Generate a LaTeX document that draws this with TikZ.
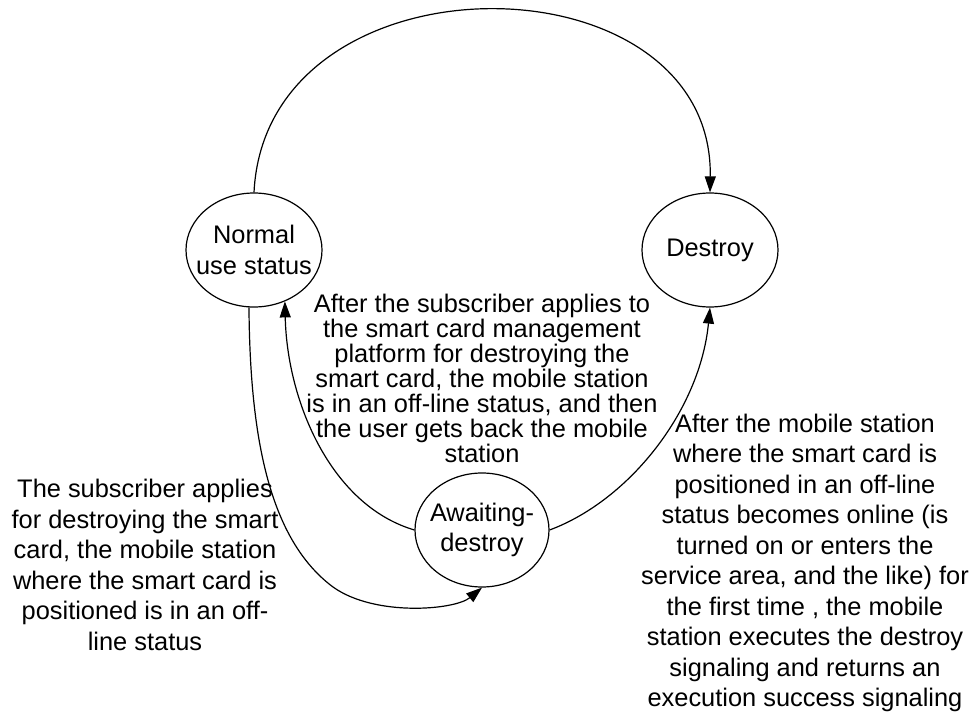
\documentclass[tikz,border=0pt]{standalone}
\usepackage{fontspec}
\setmainfont{Liberation Sans}
\usetikzlibrary{arrows.meta,shapes.geometric}
\begin{document}
\begin{tikzpicture}[x=1pt,y=-1pt,
  state/.style={draw, ellipse, line width=1.2pt, minimum width=136pt, minimum height=114pt, inner sep=0pt},
  lbl/.style={align=center, inner sep=0pt, font=\fontsize{25.4pt}{30.5pt}\selectfont},
  midlbl/.style={align=center, inner sep=0pt, font=\fontsize{25.4pt}{25pt}\selectfont},
  conn/.style={line width=1.2pt, -{Triangle[length=16pt,width=11pt]}}]
\fill[white] (0,0) rectangle (975,715);
\useasboundingbox (0,0) rectangle (975,715);

\node[state] (n) at (254,250) {};
\node[state] (d) at (710,250) {};
\node[state, minimum width=134pt] (a) at (482,530) {};

\node[lbl] (ntxt) at (n.center) {Normal\\use status};
\node[lbl] (dtxt) at (d.center) {Destroy};
\node[lbl] (atxt) at (a.center) {Awaiting-\\destroy};

\draw[conn] (n.north) .. controls (266,-52) and (714,-48) .. (d.north);
\draw[conn] (n.265) .. controls (250,440) and (270,540) .. (333,587) .. controls (375,617) and (455,610) .. (a.south);
\draw[conn] (a.west) .. controls (330,505) and (287,400) .. (n.301);
\draw[conn] (a.east) .. controls (630,500) and (700,410) .. (d.south);

\node[midlbl] (mid) at (482,378) {After the subscriber applies to\\the smart card management\\platform for destroying the\\smart card, the mobile station\\is in an off-line status, and then\\the user gets back the mobile\\station};
\node[lbl] (left) at (145,565) {The subscriber applies\\for destroying the smart\\card, the mobile station\\where the smart card is\\positioned is in an off-\\line status};
\node[lbl] (right) at (805,563) {After the mobile station\\where the smart card is\\positioned in an off-line\\status becomes online (is\\turned on or enters the\\service area, and the like) for\\the first time , the mobile\\station executes the destroy\\signaling and returns an\\execution success signaling};
\end{tikzpicture}
\end{document}
